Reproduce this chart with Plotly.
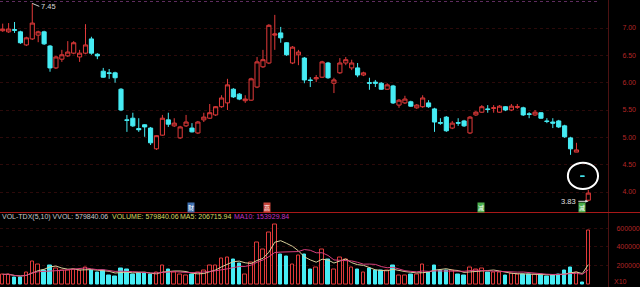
import plotly.graph_objects as go
import pandas as pd

# ---------------- data ----------------
opens = [6.95, 6.93, 6.97, 6.93, 6.69, 6.80, 6.87, 6.93, 6.67, 6.27,
         6.43, 6.49, 6.54, 6.47, 6.54, 6.80, 6.52, 6.21, 6.18, 6.18,
         5.88, 5.32, 5.35, 5.16, 5.23, 5.17, 4.79, 5.04, 5.32, 5.21,
         4.99, 5.21, 5.17, 5.08, 5.32, 5.35, 5.41, 5.56, 5.63, 5.88,
         5.79, 5.67, 5.68, 5.92, 6.29, 6.36, 6.87, 6.91, 6.73, 6.36,
         6.51, 6.45, 6.05, 6.07, 6.10, 6.36, 5.99, 6.18, 6.36, 6.27,
         6.27, 6.14, 6.00, 6.01, 5.99, 5.88, 5.94, 5.59, 5.63, 5.65,
         5.54, 5.56, 5.63, 5.52, 5.27, 5.37, 5.17, 5.27, 5.30, 5.08,
         5.41, 5.46, 5.52, 5.53, 5.46, 5.56, 5.50, 5.55, 5.54, 5.43,
         5.41, 5.45, 5.30, 5.28, 5.30, 5.21, 4.99, 4.73, 4.29, 3.85]
highs = [7.08, 7.09, 7.11, 6.95, 6.84, 7.45, 6.95, 6.95, 6.69, 6.49,
         6.60, 6.76, 6.76, 6.60, 7.07, 6.84, 6.54, 6.27, 6.25, 6.20,
         5.90, 5.41, 5.45, 5.35, 5.24, 5.19, 5.04, 5.41, 5.45, 5.35,
         5.21, 5.41, 5.26, 5.30, 5.45, 5.61, 5.57, 5.77, 6.07, 5.90,
         5.81, 5.77, 6.09, 6.47, 6.60, 7.07, 7.24, 7.02, 6.74, 6.67,
         6.60, 6.47, 6.10, 6.14, 6.40, 6.38, 6.09, 6.45, 6.47, 6.42,
         6.36, 6.20, 6.09, 6.05, 6.01, 5.99, 5.96, 5.70, 5.76, 5.67,
         5.61, 5.77, 5.68, 5.54, 5.35, 5.39, 5.30, 5.35, 5.32, 5.39,
         5.48, 5.59, 5.59, 5.59, 5.59, 5.57, 5.61, 5.61, 5.56, 5.46,
         5.50, 5.46, 5.35, 5.35, 5.32, 5.23, 5.01, 4.90, 4.29, 4.04]
lows = [6.93, 6.91, 6.91, 6.71, 6.67, 6.78, 6.74, 6.69, 6.20, 6.25,
        6.38, 6.47, 6.52, 6.38, 6.52, 6.51, 6.43, 6.09, 6.07, 6.00,
        5.48, 5.10, 5.19, 5.10, 5.01, 4.86, 4.77, 5.03, 5.19, 5.19,
        4.97, 5.19, 5.09, 5.06, 5.28, 5.34, 5.39, 5.54, 5.50, 5.72,
        5.68, 5.63, 5.67, 5.90, 6.27, 6.34, 6.60, 6.73, 6.49, 6.34,
        6.32, 5.99, 5.92, 6.01, 6.09, 6.07, 5.81, 6.16, 6.32, 6.23,
        6.10, 6.12, 5.87, 5.92, 5.87, 5.87, 5.61, 5.54, 5.61, 5.56,
        5.52, 5.54, 5.54, 5.10, 5.23, 5.10, 5.15, 5.21, 5.19, 5.06,
        5.39, 5.45, 5.45, 5.45, 5.45, 5.48, 5.48, 5.52, 5.39, 5.35,
        5.39, 5.34, 5.26, 5.17, 5.17, 4.99, 4.68, 4.73, 4.29, 3.83]
closes = [6.98, 6.98, 6.96, 6.73, 6.82, 7.09, 6.93, 6.71, 6.27, 6.47,
          6.51, 6.56, 6.73, 6.54, 6.69, 6.54, 6.49, 6.10, 6.17, 6.09,
          5.50, 5.31, 5.21, 5.14, 5.19, 4.90, 5.03, 5.35, 5.24, 5.26,
          5.19, 5.28, 5.10, 5.28, 5.37, 5.45, 5.56, 5.72, 5.96, 5.74,
          5.70, 5.70, 6.07, 6.38, 6.42, 7.05, 6.89, 6.82, 6.51, 6.65,
          6.56, 6.05, 6.04, 6.09, 6.38, 6.09, 6.05, 6.36, 6.42, 6.36,
          6.14, 6.18, 5.99, 5.99, 5.88, 5.96, 5.63, 5.68, 5.70, 5.57,
          5.59, 5.72, 5.56, 5.28, 5.26, 5.12, 5.26, 5.26, 5.21, 5.37,
          5.46, 5.56, 5.51, 5.54, 5.57, 5.50, 5.57, 5.56, 5.41, 5.42,
          5.46, 5.35, 5.29, 5.26, 5.19, 5.01, 4.79, 4.77, 4.29, 3.98]
volumes = [108000, 108000, 73000, 73000, 126000, 250000, 215000, 144000, 204000, 168000,
           144000, 154000, 161000, 144000, 179000, 154000, 126000, 144000, 98000, 90000,
           168000, 161000, 102000, 115000, 115000, 108000, 126000, 197000, 161000, 126000,
           108000, 98000, 108000, 126000, 144000, 197000, 197000, 275000, 286000, 261000,
           225000, 108000, 239000, 445000, 374000, 551000, 640000, 321000, 303000, 215000,
           310000, 321000, 161000, 179000, 374000, 268000, 161000, 286000, 268000, 179000,
           161000, 126000, 172000, 144000, 144000, 144000, 204000, 98000, 98000, 108000,
           108000, 215000, 133000, 197000, 144000, 151000, 144000, 108000, 98000, 179000,
           161000, 172000, 133000, 126000, 126000, 98000, 115000, 108000, 108000, 108000,
           108000, 108000, 90000, 98000, 108000, 144000, 186000, 126000, 19000, 579840.06]

price_ticks = [4.0, 4.5, 5.0, 5.5, 6.0, 6.5, 7.0, 7.5]
vol_ticks = [200000, 400000, 600000]
vol_tick_text = ["200000", "400000", "600000"]
header_vol = 579840.06
header_ma5 = 206715.94
header_ma10 = 153929.84

# icon markers (position in bar index, glyph, colour)
icon_pos = [31.8, 44.6, 80.9, 98.0]
icon_txt = ["财", "高", "减", "减"]
icon_col = ["#3f6fb0", "#c8463c", "#4caf4c", "#4caf4c"]

# ------------------------------------------------------------------------
RED = "#e23a3a"
CYAN = "#46ecf4"
W, H = 640, 287
AX_X = 608  # px of the right price axis line

idx = list(range(len(opens)))
up = []
for i in idx:
    if closes[i] > opens[i]:
        up.append(True)
    elif closes[i] < opens[i]:
        up.append(False)
    else:
        up.append(i > 0 and closes[i] >= closes[i - 1])

vol = pd.Series(volumes)
ma5 = vol.rolling(5, min_periods=1).mean()
ma10 = vol.rolling(10, min_periods=1).mean()

fig = go.Figure()

fig.add_trace(go.Candlestick(
    x=idx, open=opens, high=highs, low=lows, close=closes,
    increasing=dict(line=dict(color=RED, width=1), fillcolor="#000000"),
    decreasing=dict(line=dict(color=CYAN, width=1), fillcolor=CYAN),
    whiskerwidth=0, xaxis="x", yaxis="y", hoverinfo="skip",
))

fig.add_trace(go.Bar(
    x=idx, y=volumes, width=0.6,
    marker=dict(color=["#000000" if u else CYAN for u in up],
                line=dict(color=[RED if u else CYAN for u in up], width=1)),
    xaxis="x", yaxis="y2", hoverinfo="skip",
))
fig.add_trace(go.Scatter(x=idx, y=ma5, mode="lines",
                         line=dict(color="#d8cf9a", width=1),
                         xaxis="x", yaxis="y2", hoverinfo="skip"))
fig.add_trace(go.Scatter(x=idx, y=ma10, mode="lines",
                         line=dict(color="#d8407e", width=1),
                         xaxis="x", yaxis="y2", hoverinfo="skip"))

# pixel geometry of the two panels
px_per_bar = 5.915
x_left = -2.7 / px_per_bar
x_right = (AX_X - 2.7) / px_per_bar

sep_y = 212.5
price_top_val = 7.0 + 28 / 54.67
price_bot_val = 7.0 - (sep_y - 28) / 54.67
vol_per_px = 10640
vol_zero_px = 284.5
vol_min = -(H - vol_zero_px) * vol_per_px
vol_max = (vol_zero_px - sep_y) * vol_per_px

font = "Liberation Sans, Arial, sans-serif"

fig.update_layout(
    width=W, height=H, margin=dict(l=0, r=0, t=0, b=0),
    paper_bgcolor="#000000", plot_bgcolor="#000000",
    showlegend=False, bargap=0, boxgap=0.3, boxgroupgap=0,
    xaxis=dict(domain=[0, AX_X / W], range=[x_left, x_right], visible=False,
               rangeslider=dict(visible=False), fixedrange=True),
    yaxis=dict(domain=[1 - sep_y / H, 1], range=[price_bot_val, price_top_val],
               side="right", tickvals=price_ticks,
               ticktext=[f"{v:.2f}" for v in price_ticks],
               tickfont=dict(family=font, size=7, color="#b42626"),
               ticks="", ticklabelstandoff=12,
               showgrid=True, gridcolor="#2c0a0a", griddash="dot", gridwidth=1,
               zeroline=False, showline=True, linecolor="#4c1212", linewidth=1),
    yaxis2=dict(domain=[0, 1 - sep_y / H], range=[vol_min, vol_max],
                side="right", anchor="x", tickvals=vol_ticks, ticktext=vol_tick_text,
                tickfont=dict(family=font, size=7, color="#b42626"),
                ticks="", ticklabelstandoff=6,
                showgrid=True, gridcolor="#2c0a0a", griddash="dot", gridwidth=1,
                zeroline=False, showline=True, linecolor="#4c1212", linewidth=1),
)

shapes = [
    # panel separator
    dict(type="line", xref="paper", yref="paper", x0=0, x1=1,
         y0=1 - sep_y / H, y1=1 - sep_y / H, line=dict(color="#a81818", width=1)),
    # dotted row at the very top
    dict(type="line", xref="paper", yref="paper", x0=0, x1=0.935,
         y0=1 - 1.5 / H, y1=1 - 1.5 / H, line=dict(color="#5e2c5e", width=1, dash="dot")),
    # white hand-drawn circle around the limit-down bar
    dict(type="circle", xref="x", yref="y",
         x0=idx[98] - 2.45, x1=idx[98] + 2.65,
         y0=closes[98] - 0.235, y1=closes[98] + 0.245,
         line=dict(color="#ffffff", width=2)),
]
fig.update_layout(shapes=shapes)

ann = []
# high / low labels
ann.append(dict(x=idx[5], y=highs[5], xref="x", yref="y", text="7.45",
                showarrow=True, ax=7, ay=3, xanchor="left", yanchor="middle",
                arrowhead=0, arrowwidth=1, arrowcolor="#d0d0d0",
                font=dict(family=font, size=7.5, color="#d8d8d8")))
ann.append(dict(x=idx[99], y=lows[99], xref="x", yref="y", text="3.83",
                showarrow=True, ax=-10, ay=0, xanchor="right", yanchor="middle",
                arrowhead=2, arrowsize=0.6, arrowwidth=1, arrowcolor="#e0e0e0",
                font=dict(family=font, size=7.5, color="#e0e0e0")))
# icons
for p, t, c in zip(icon_pos, icon_txt, icon_col):
    ann.append(dict(x=p, y=1 - 207 / H, xref="x", yref="paper", text=t,
                    showarrow=False, bgcolor=c, borderpad=0, yanchor="middle",
                    font=dict(family="Noto Sans CJK SC", size=6, color="#ffffff")))
# volume header
hy = 1 - 216.5 / H
ann.append(dict(x=0, y=hy, xref="paper", yref="paper", xanchor="left", yanchor="middle",
                text=f"VOL-TDX(5,10) VVOL: {header_vol:.2f}", showarrow=False,
                font=dict(family=font, size=7, color="#c8c8c8")))
ann.append(dict(x=110 / W, y=hy, xref="paper", yref="paper", xanchor="left", yanchor="middle",
                text=f"VOLUME: {header_vol:.2f}", showarrow=False,
                font=dict(family=font, size=7, color="#d8d860")))
ann.append(dict(x=178 / W, y=hy, xref="paper", yref="paper", xanchor="left", yanchor="middle",
                text=f"MA5: {header_ma5:.2f}", showarrow=False,
                font=dict(family=font, size=7, color="#d8d860")))
ann.append(dict(x=232 / W, y=hy, xref="paper", yref="paper", xanchor="left", yanchor="middle",
                text=f"MA10: {header_ma10:.2f}", showarrow=False,
                font=dict(family=font, size=7, color="#c032c0")))
ann.append(dict(x=612 / W, y=1 - 281 / H, xref="paper", yref="paper", xanchor="left",
                yanchor="middle", text="X10", showarrow=False,
                font=dict(family=font, size=7, color="#b42626")))
fig.update_layout(annotations=ann)

fig.write_html("out.html")
